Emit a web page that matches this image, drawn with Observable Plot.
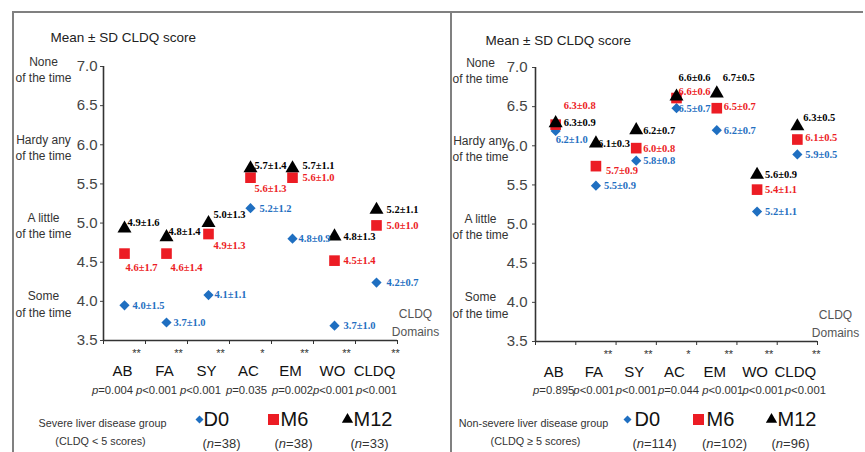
<!DOCTYPE html>
<html><head><meta charset="utf-8">
<script src="https://cdn.jsdelivr.net/npm/d3@7"></script>
<script src="https://cdn.jsdelivr.net/npm/@observablehq/plot@0.6"></script>
<style>
html,body{margin:0;padding:0;background:#fff;}
#wrap{position:relative;width:865px;height:452px;overflow:hidden;background:#fff;}
#left,#right{position:absolute;top:0;height:452px;}
#left{left:0;width:451px;} #right{left:451px;width:414px;}
.bd{position:absolute;background:#808080;}
</style></head><body>
<div id="wrap">
<div id="left"></div><div id="right"></div>
<div class="bd" style="left:12px;top:11px;width:851px;height:2px"></div>
<div class="bd" style="left:12px;top:11px;width:2px;height:441px"></div>
<div class="bd" style="left:450px;top:11px;width:2px;height:441px"></div>
</div>
<script>
// ---------- data ----------
const domains = ["AB","FA","SY","AC","EM","WO","CLDQ"];
const yTicks = [3.5,4.0,4.5,5.0,5.5,6.0,6.5,7.0];
const freqValues = [7.0,6.0,5.0,4.0];
const freqText = ["None\nof the time","Hardy any\nof the time","A little\nof the time","Some\nof the time"];
const seriesNames = ["D0","M6","M12"];

// Severe liver disease group
const sevD0  = [3.95,3.73,4.08,5.19,4.80,3.69,4.24];
const sevM6  = [4.61,4.61,4.86,5.58,5.58,4.52,4.97];
const sevM12 = [4.93,4.82,5.00,5.70,5.70,4.83,5.17];
const sevD0Text  = ["4.0±1.5","3.7±1.0","4.1±1.1","5.2±1.2","4.8±0.9","3.7±1.0","4.2±0.7"];
const sevM6Text  = ["4.6±1.7","4.6±1.4","4.9±1.3","5.6±1.3","5.6±1.0","4.5±1.4","5.0±1.0"];
const sevM12Text = ["4.9±1.6","4.8±1.4","5.0±1.3","5.7±1.4","5.7±1.1","4.8±1.3","5.2±1.1"];
const sevStars = ["**","**","**","*","**","**","**"];
const sevP = ["p=0.004","p<0.001","p<0.001","p=0.035","p=0.002","p<0.001","p<0.001"];
const sevN = ["38","38","33"];

// Non-severe liver disease group
const nonD0  = [6.19,5.49,5.81,6.48,6.20,5.16,5.89];
const nonM6  = [6.27,5.74,5.97,6.61,6.48,5.44,6.08];
const nonM12 = [6.29,6.03,6.20,6.63,6.67,5.63,6.25];
const nonD0Text  = ["6.2±1.0","5.5±0.9","5.8±0.8","6.5±0.7","6.2±0.7","5.2±1.1","5.9±0.5"];
const nonM6Text  = ["6.3±0.8","5.7±0.9","6.0±0.8","6.6±0.6","6.5±0.7","5.4±1.1","6.1±0.5"];
const nonM12Text = ["6.3±0.9","6.1±0.3","6.2±0.7","6.6±0.6","6.7±0.5","5.6±0.9","6.3±0.5"];
const nonStars = ["","**","**","*","**","**","**"];
const nonP = ["p=0.895","p<0.001","p<0.001","p=0.044","p<0.001","p<0.001","p<0.001"];
const nonN = ["114","102","96"];

// ---------- layout (label nudges in px) ----------
const layoutLeft = {
  width:451, marginLeft:103, marginRight:54, marginTop:66, marginBottom:112, tickPad:3, freqDx:-60,
  titleDx:-53, titleDy:-29, off:0,
  d0Nudge:[[8,0],[7,0],[6,0],[9,0],[6,0],[9,0],[10,0]],
  m6Nudge:[[1,14],[4,14],[5,12],[4,11],[10,0],[9,0],[10,0]],
  m12Nudge:[[3,-6],[2,-6],[5,-8],[4,-3],[10,-3],[9,0],[10,0]],
  pShift:[-12,-10,-8,-4,0,-1,0],
  groupDx:[-1,-3], legSym:[96,170,244], legText:[100,177,250], nDx:[118,190,266]
};
const layoutRight = {
  width:414, marginLeft:84, marginRight:48, marginTop:67, marginBottom:111, tickPad:5, freqDx:-55,
  titleDx:-50, titleDy:-27, off:-1,
  d0Nudge:[[0,9],[8,0],[7,0],[2,0],[7,0],[8,0],[8,0]],
  m6Nudge:[[8,-19],[10,4],[7,0],[2,-6],[7,-2],[8,0],[8,-2]],
  m12Nudge:[[8,0],[2,0],[7,0],[2,-19],[6,-16],[8,0],[6,-9]],
  pShift:[-2,-2,0,2,6,6,8],
  groupDx:[-2,0], legSym:[92,163,236], legText:[99,171,242], nDx:[119,189,255]
};

const FONT = "'Liberation Sans',Arial,sans-serif";
const SERIF = "'Liberation Serif','DejaVu Serif',serif";
const BLUE = "#1f6fc1", RED = "#ec1c24", BLACK = "#000";

function makePanel(L, data){
  const marks = [];
  const xs = (d,i)=>i+0.5;
  const o = L.off;
  marks.push(Plot.axisY({ticks:yTicks, tickFormat:d3.format(".1f"), tickSize:3, tickPadding:L.tickPad, fontSize:15, color:"#444", label:null}));
  marks.push(Plot.axisX({ticks:d3.range(domains.length+1), tickFormat:()=>"", tickSize:4, color:"#333", label:null}));
  marks.push(Plot.ruleX([0], {stroke:"#333", strokeWidth:1.6}));
  marks.push(Plot.ruleY([3.5], {stroke:"#333", strokeWidth:1.6}));
  // frequency labels
  marks.push(Plot.text(freqValues, {y:d=>d, text:(d,i)=>freqText[i], frameAnchor:"left", dx:L.freqDx, dy:2, textAnchor:"middle", lineAnchor:"middle", lineHeight:1.35, fontSize:12, fill:"#333"}));
  // title
  marks.push(Plot.text(["Mean ± SD CLDQ score"], {text:d=>d, frameAnchor:"top-left", dx:L.titleDx, dy:L.titleDy, textAnchor:"start", lineAnchor:"middle", fontSize:13.5, fill:"#222"}));
  // CLDQ Domains
  marks.push(Plot.text(["CLDQ\nDomains"], {text:d=>d, frameAnchor:"bottom-right", dx:18, dy:-19, textAnchor:"middle", lineAnchor:"middle", lineHeight:1.45, fontSize:12, fill:"#555"}));
  const series = [
    {vals:data.d0, text:data.d0Text, nudge:L.d0Nudge, symbol:"diamond2", r:4.6, color:BLUE},
    {vals:data.m6, text:data.m6Text, nudge:L.m6Nudge, symbol:"square", r:6, color:RED},
    {vals:data.m12, text:data.m12Text, nudge:L.m12Nudge, symbol:"triangle", r:5.2, color:BLACK}
  ];
  for (const s of series) {
    marks.push(Plot.dot(domains, {x:xs, y:(d,i)=>s.vals[i], symbol:s.symbol, r:s.r, fill:s.color, stroke:"none"}));
  }
  for (const s of series) {
    domains.forEach((d,i)=>{
      marks.push(Plot.text([d], {x:()=>i+0.5, y:()=>s.vals[i], text:()=>s.text[i], dx:s.nudge[i][0], dy:s.nudge[i][1], textAnchor:"start", lineAnchor:"middle", fill:s.color, fontFamily:SERIF, fontWeight:"bold", fontSize:10.5}));
    });
  }
  // categories, stars, p-values
  marks.push(Plot.text(domains, {x:xs, text:d=>d, frameAnchor:"bottom", lineAnchor:"middle", dx:-2, dy:31, fontSize:15, fill:"#111"}));
  domains.forEach((d,i)=>{
    if (data.stars[i]) marks.push(Plot.text([d], {x:()=>i+0.5, text:()=>data.stars[i], frameAnchor:"bottom", dx:5+3.5*d.length, dy:16, fontSize:11, fill:"#333"}));
    marks.push(Plot.text([d], {x:()=>i+0.5, text:()=>data.p[i], frameAnchor:"bottom", lineAnchor:"middle", dx:L.pShift[i], dy:50+o, fontSize:11.3, fill:"#333"}));
  });
  // legend
  marks.push(Plot.text([data.group[0]], {text:d=>d, frameAnchor:"bottom-left", lineAnchor:"middle", dx:L.groupDx[0], dy:83+o, textAnchor:"middle", fontSize:10.8, fill:"#333"}));
  marks.push(Plot.text([data.group[1]], {text:d=>d, frameAnchor:"bottom-left", lineAnchor:"middle", dx:L.groupDx[1], dy:101+o, textAnchor:"middle", fontSize:10.8, fill:"#333"}));
  const legSyms = [{symbol:"diamond2", r:3.6, color:BLUE},{symbol:"square", r:6.2, color:RED},{symbol:"triangle", r:4.2, color:BLACK}];
  seriesNames.forEach((nm,j)=>{
    marks.push(Plot.dot([nm], {frameAnchor:"bottom-left", dx:L.legSym[j], dy:79+o, symbol:legSyms[j].symbol, r:legSyms[j].r, fill:legSyms[j].color, stroke:"none"}));
    marks.push(Plot.text([nm], {text:d=>d, frameAnchor:"bottom-left", lineAnchor:"middle", dx:L.legText[j], dy:79+o, textAnchor:"start", fontSize:20, fill:"#111"}));
    marks.push(Plot.text(["(n=" + data.n[j] + ")"], {text:d=>d, frameAnchor:"bottom-left", lineAnchor:"middle", dx:L.nDx[j], dy:103+o, textAnchor:"middle", fontSize:13, fill:"#333"}));
  });
  const svg = Plot.plot({
    width:L.width, height:452,
    marginLeft:L.marginLeft, marginRight:L.marginRight, marginTop:L.marginTop, marginBottom:L.marginBottom,
    x:{domain:[0,domains.length]}, y:{domain:[3.5,7.0]},
    style:{fontFamily:FONT, background:"transparent", overflow:"visible"},
    marks
  });
  // italic p and n
  d3.select(svg).selectAll("text").each(function(){
    if (this.querySelector("tspan")) return;
    const m = this.textContent.match(/^(\(?)([pn])([=<:].*)$/);
    if (m) {
      this.textContent = "";
      const sel = d3.select(this);
      if (m[1]) sel.append("tspan").text(m[1]);
      sel.append("tspan").attr("font-style","italic").text(m[2]);
      sel.append("tspan").text(m[3]);
    }
  });
  return svg;
}

document.getElementById("left").appendChild(makePanel(layoutLeft, {
  d0:sevD0, m6:sevM6, m12:sevM12, d0Text:sevD0Text, m6Text:sevM6Text, m12Text:sevM12Text,
  stars:sevStars, p:sevP, n:sevN, group:["Severe liver disease group","(CLDQ < 5 scores)"]
}));
document.getElementById("right").appendChild(makePanel(layoutRight, {
  d0:nonD0, m6:nonM6, m12:nonM12, d0Text:nonD0Text, m6Text:nonM6Text, m12Text:nonM12Text,
  stars:nonStars, p:nonP, n:nonN, group:["Non-severe liver disease group","(CLDQ ≥ 5 scores)"]
}));
</script>
</body></html>
